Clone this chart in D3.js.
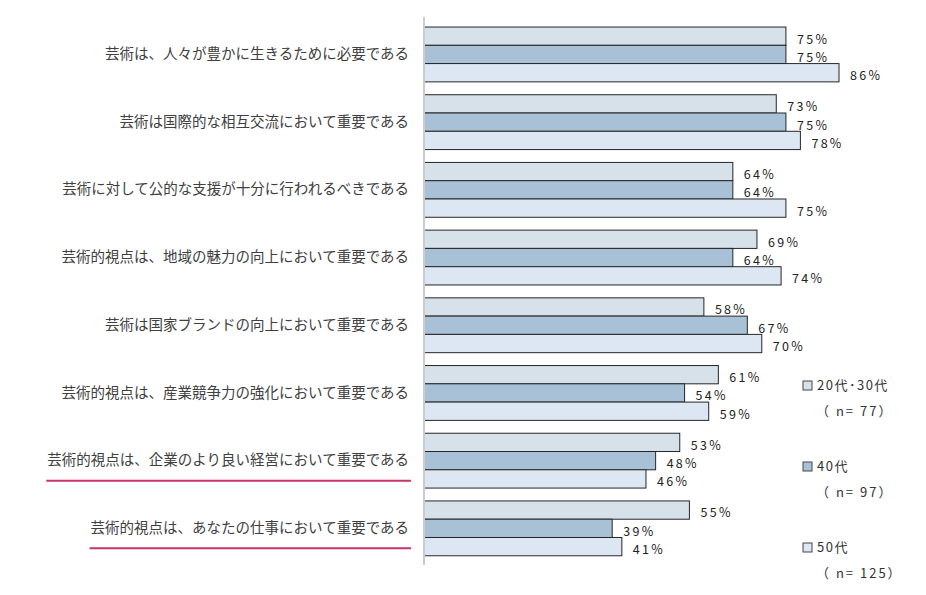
<!DOCTYPE html>
<html>
<head>
<meta charset="utf-8">
<script src="https://cdn.jsdelivr.net/npm/d3@7"></script>
<style>
  body { margin: 0; background: #fff; }
  svg { display: block; font-family: "Noto Sans CJK JP", "Noto Sans", sans-serif; }
</style>
</head>
<body>
<div id="chart"></div>
<script>
// Data
const categories = [
    "芸術は、人々が豊かに生きるために必要である",
    "芸術は国際的な相互交流において重要である",
    "芸術に対して公的な支援が十分に行われるべきである",
    "芸術的視点は、地域の魅力の向上において重要である",
    "芸術は国家ブランドの向上において重要である",
    "芸術的視点は、産業競争力の強化において重要である",
    "芸術的視点は、企業のより良い経営において重要である",
    "芸術的視点は、あなたの仕事において重要である"
];
const age2030 = [75, 73, 64, 69, 58, 61, 53, 55];
const age40 = [75, 75, 64, 64, 67, 54, 48, 39];
const age50 = [86, 78, 75, 74, 70, 59, 46, 41];
const seriesNames = ["20代･30代", "40代", "50代"];
const seriesN = [77, 97, 125];
const underlined = [
    "芸術的視点は、企業のより良い経営において重要である",
    "芸術的視点は、あなたの仕事において重要である"
];

const colors = ["#d6e1ea", "#a9c1d6", "#dde7f3"];
const width = 926, height = 595;

const svg = d3.select("#chart").append("svg")
    .attr("width", width)
    .attr("height", height);

// Scales
const x = d3.scaleLinear()
    .domain([0, 86])
    .range([424, 839]);

const y = d3.scaleBand()
    .domain(categories)
    .range([20.6, 562.2])
    .paddingInner(0.19)
    .paddingOuter(0.095);

const keys = [0, 1, 2];
const ySub = d3.scaleBand()
    .domain(keys)
    .range([0, y.bandwidth()]);

const rows = categories.map((c, i) => ({
    cat: c,
    values: [age2030[i], age40[i], age50[i]]
}));

// Bars
const groups = svg.selectAll("g.group")
    .data(rows)
    .enter()
    .append("g")
    .attr("class", "group")
    .attr("transform", d => `translate(0,${y(d.cat)})`);

groups.selectAll("rect")
    .data(d => d.values.map((v, k) => ({ v, k })))
    .enter()
    .append("rect")
    .attr("x", x(0))
    .attr("y", d => ySub(d.k))
    .attr("width", d => x(d.v) - x(0))
    .attr("height", ySub.bandwidth())
    .attr("fill", d => colors[d.k])
    .attr("stroke", "#262626")
    .attr("stroke-width", 1);

groups.selectAll("text.value")
    .data(d => d.values.map((v, k) => ({ v, k })))
    .enter()
    .append("text")
    .attr("class", "value")
    .attr("x", d => x(d.v) + 11)
    .attr("y", d => ySub(d.k) + ySub.bandwidth() / 2 + 4)
    .attr("dominant-baseline", "middle")
    .style("font-size", "12.5px")
    .style("letter-spacing", "2.3px")
    .attr("fill", "#222")
    .text(d => d.v + "%");

// Category axis
const axis = svg.append("g")
    .attr("transform", `translate(${x(0)},0)`)
    .call(d3.axisLeft(y).tickSize(0).tickPadding(15));

axis.select(".domain")
    .attr("stroke", "#ccc")
    .attr("stroke-width", 2)
    .attr("d", "M0,17V565");

axis.selectAll(".tick text")
    .style("font-size", "14.5px")
    .style("font-family", "\"Noto Sans CJK JP\", sans-serif")
    .attr("fill", "#404040");

// Underline the last two statements
axis.selectAll(".tick")
    .filter(d => underlined.includes(d))
    .each(function () {
        const box = d3.select(this).select("text").node().getBBox();
        d3.select(this).append("line")
            .attr("x1", box.x - 1)
            .attr("x2", box.x + box.width + 2)
            .attr("y1", 20)
            .attr("y2", 20)
            .attr("stroke", "#c8336a")
            .attr("stroke-width", 2);
    });

// Legend
const legend = svg.append("g")
    .attr("transform", "translate(803,381)");

const item = legend.selectAll("g")
    .data(seriesNames)
    .enter()
    .append("g")
    .attr("transform", (d, i) => `translate(0,${i * 81})`);

item.append("rect")
    .attr("width", 9)
    .attr("height", 9)
    .attr("fill", (d, i) => colors[i])
    .attr("stroke", "#444");

item.append("text")
    .attr("x", 14)
    .attr("y", 5)
    .attr("dominant-baseline", "middle")
    .style("font-size", "13px")
    .style("letter-spacing", "1.5px")
    .attr("fill", "#333")
    .text(d => d);

item.append("text")
    .attr("x", 13)
    .attr("y", 31)
    .attr("dominant-baseline", "middle")
    .style("font-size", "13px")
    .style("letter-spacing", "2px")
    .attr("fill", "#333")
    .text((d, i) => `（ n= ${seriesN[i]}）`);
</script>
</body>
</html>
